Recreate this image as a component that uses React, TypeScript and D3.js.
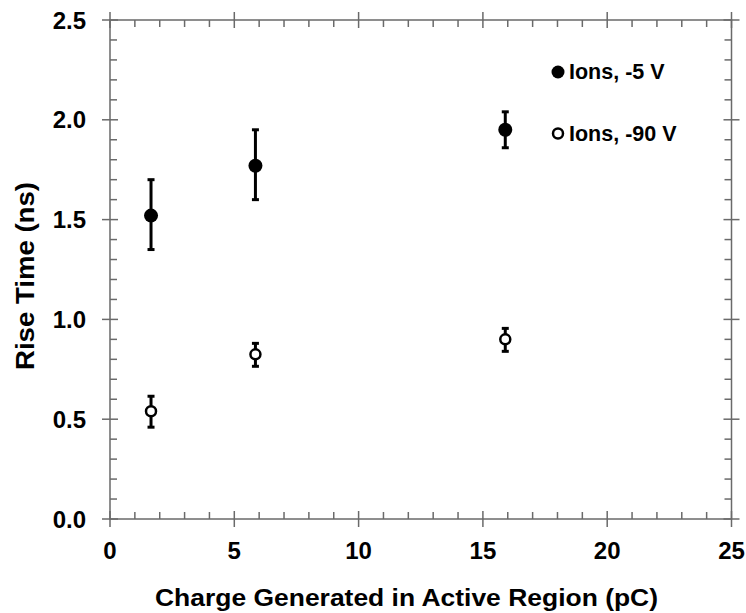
import React from "react";
import * as d3 from "d3";

const chargeValues = [1.65, 5.85, 15.9];
const riseMinus5V = [1.52, 1.77, 1.95];
const riseMinus5VLow = [1.35, 1.6, 1.86];
const riseMinus5VHigh = [1.7, 1.95, 2.04];
const riseMinus90V = [0.54, 0.825, 0.9];
const riseMinus90VLow = [0.46, 0.765, 0.84];
const riseMinus90VHigh = [0.615, 0.88, 0.955];
const seriesLabels = ["Ions, -5 V", "Ions, -90 V"];
const xTickValues = [0, 5, 10, 15, 20, 25];
const yTickValues = [0, 0.5, 1.0, 1.5, 2.0, 2.5];

const W = 746;
const H = 613;
const FONT = "'Liberation Sans', Arial, Helvetica, sans-serif";
const AXIS = "#6a6a6a";

export default function App() {
  const x = d3.scaleLinear().domain([0, 25]).range([110, 731.5]);
  const y = d3.scaleLinear().domain([0, 2.5]).range([519, 20]);
  const [x0, x1] = x.range();
  const [y0, y1] = y.range();

  const xMinor = d3.range(0, 26, 1).filter((v) => v % 5 !== 0);
  const yMinor = d3.range(0, 26, 1).map((v) => v / 10).filter((_, i) => i % 5 !== 0);

  const series = [
    { vals: riseMinus5V, lo: riseMinus5VLow, hi: riseMinus5VHigh, filled: true },
    { vals: riseMinus90V, lo: riseMinus90VLow, hi: riseMinus90VHigh, filled: false },
  ];

  return (
    <svg width={W} height={H} style={{ position: "absolute", left: 0, top: 0, background: "#fff" }}>
      <rect x={0} y={0} width={W} height={H} fill="#fff" />
      {/* frame */}
      <rect x={x0} y={y1} width={x1 - x0} height={y0 - y1} fill="none" stroke={AXIS} strokeWidth={1.5} />
      {/* x ticks */}
      {xMinor.map((v) => (
        <g key={"xm" + v} stroke={AXIS} strokeWidth={1.5}>
          <line x1={x(v)} x2={x(v)} y1={y0} y2={y0 - 7} />
          <line x1={x(v)} x2={x(v)} y1={y1} y2={y1 + 7} />
        </g>
      ))}
      {xTickValues.map((v) => (
        <g key={"xM" + v} stroke={AXIS} strokeWidth={1.5}>
          <line x1={x(v)} x2={x(v)} y1={y0 - 8} y2={y0 + 8} />
          <line x1={x(v)} x2={x(v)} y1={y1 - 8} y2={y1 + 8} />
        </g>
      ))}
      {yMinor.map((v) => (
        <g key={"ym" + v} stroke={AXIS} strokeWidth={1.5}>
          <line x1={x0} x2={x0 + 7} y1={y(v)} y2={y(v)} />
          <line x1={x1} x2={x1 - 7} y1={y(v)} y2={y(v)} />
        </g>
      ))}
      {yTickValues.map((v) => (
        <g key={"yM" + v} stroke={AXIS} strokeWidth={1.5}>
          <line x1={x0 - 8} x2={x0 + 8} y1={y(v)} y2={y(v)} />
          <line x1={x1 - 8} x2={x1 + 8} y1={y(v)} y2={y(v)} />
        </g>
      ))}
      {/* tick labels */}
      {xTickValues.map((v) => (
        <text key={"xl" + v} x={x(v)} y={559} textAnchor="middle" fontFamily={FONT} fontWeight="bold" fontSize={24} fill="#000">
          {d3.format("d")(v)}
        </text>
      ))}
      {yTickValues.map((v) => (
        <text key={"yl" + v} x={86} y={y(v) + 8.5} textAnchor="end" fontFamily={FONT} fontWeight="bold" fontSize={24} fill="#000">
          {d3.format(".1f")(v)}
        </text>
      ))}
      {/* axis titles */}
      <text x={155} y={606} fontFamily={FONT} fontWeight="bold" fontSize={24.5} fill="#000" textLength={503} lengthAdjust="spacingAndGlyphs">
        Charge Generated in Active Region (pC)
      </text>
      <text
        transform={`translate(34, 370) rotate(-90)`}
        fontFamily={FONT}
        fontWeight="bold"
        fontSize={25}
        fill="#000"
        textLength={188}
        lengthAdjust="spacingAndGlyphs"
      >
        Rise Time (ns)
      </text>
      {/* data */}
      {series.map((s, si) => (
        <g key={"s" + si}>
          {chargeValues.map((c, i) => (
            <g key={i}>
              <line x1={x(c)} x2={x(c)} y1={y(s.lo[i])} y2={y(s.hi[i])} stroke="#000" strokeWidth={3} />
              <line x1={x(c) - 3.5} x2={x(c) + 3.5} y1={y(s.lo[i])} y2={y(s.lo[i])} stroke="#000" strokeWidth={3} />
              <line x1={x(c) - 3.5} x2={x(c) + 3.5} y1={y(s.hi[i])} y2={y(s.hi[i])} stroke="#000" strokeWidth={3} />
              {s.filled ? (
                <circle cx={x(c)} cy={y(s.vals[i])} r={7} fill="#000" />
              ) : (
                <circle cx={x(c)} cy={y(s.vals[i])} r={5} fill="#fff" stroke="#000" strokeWidth={2.5} />
              )}
            </g>
          ))}
        </g>
      ))}
      {/* legend */}
      <circle cx={558} cy={72} r={6.5} fill="#000" />
      <text x={569} y={79} fontFamily={FONT} fontWeight="bold" fontSize={21.5} fill="#000">
        {seriesLabels[0]}
      </text>
      <circle cx={558} cy={133.5} r={5} fill="#fff" stroke="#000" strokeWidth={2.5} />
      <text x={569} y={141} fontFamily={FONT} fontWeight="bold" fontSize={21.5} fill="#000">
        {seriesLabels[1]}
      </text>
    </svg>
  );
}
